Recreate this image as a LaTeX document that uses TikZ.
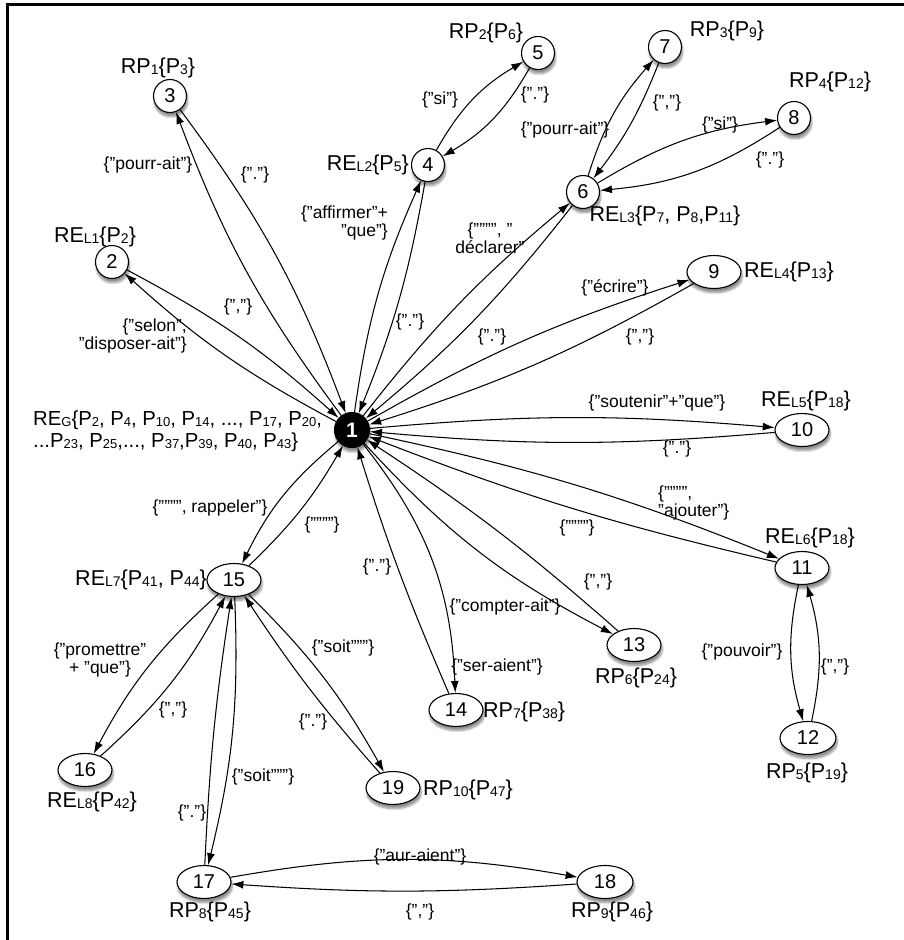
\documentclass[tikz,border=0pt]{standalone}
\usepackage{fontspec}
\setmainfont{Liberation Sans}
\usetikzlibrary{arrows.meta,shapes.geometric,shadows.blur}
\newcommand{\lsub}[1]{\raisebox{-1pt}{\fontsize{14}{14}\selectfont #1}}
\newcommand{\lsubb}[1]{\raisebox{-1pt}{\fontsize{13}{13}\selectfont #1}}
\tikzset{
  shd/.style={blur shadow={shadow blur steps=8, shadow xshift=1pt, shadow yshift=-4pt, shadow blur extra rounding=2pt, shadow opacity=45}},
  nd/.style={circle, draw, line width=1.1pt, fill=white, minimum size=33pt, inner sep=0pt, font=\fontsize{20}{20}\selectfont, shd},
  el/.style={ellipse, draw, line width=1.1pt, fill=white, minimum width=54pt, minimum height=33pt, inner sep=0pt, font=\fontsize{20}{20}\selectfont, shd},
  nlab/.style={font=\fontsize{21.5}{22}\selectfont, inner sep=0pt},
  elab/.style={font=\fontsize{17.5}{18}\selectfont, inner sep=0pt},
  conn/.style={line width=1.05pt, -{Latex[length=12pt,width=8pt]}},
}
\begin{document}
\begin{tikzpicture}[x=1pt,y=1pt]
\useasboundingbox (0,0) rectangle (904,-940);
% frame
\draw[line width=3pt] (7.5,-940) -- (7.5,-4.5) -- (904,-4.5);
% nodes
\node[nd, fill=black, text=white, font=\fontsize{21}{21}\selectfont\bfseries, minimum size=35pt] (n1) at (352,-430) {1};
\node[nd] (n2) at (112,-262) {2};
\node[nd] (n3) at (170,-96) {3};
\node[nd] (n4) at (428,-165) {4};
\node[nd] (n5) at (538,-53) {5};
\node[nd] (n6) at (583,-192) {6};
\node[nd] (n7) at (665,-47) {7};
\node[nd] (n8) at (794,-118) {8};
\node[el] (n9) at (714,-272) {9};
\node[el] (n10) at (802,-430) {10};
\node[el] (n11) at (802,-568) {11};
\node[el, minimum width=56pt] (n12) at (808,-738) {12};
\node[el] (n13) at (634,-645) {13};
\node[el] (n14) at (456,-710) {14};
\node[el] (n15) at (234,-580) {15};
\node[el] (n16) at (85,-770) {16};
\node[el] (n17) at (204,-882) {17};
\node[el, minimum width=56pt] (n18) at (605,-882) {18};
\node[el] (n19) at (393,-788) {19};
% node labels
\node[nlab, font=\fontsize{20.3}{22}\selectfont, anchor=west, align=left] (l1) at (33,-431) {RE\lsubb{G}\{P\lsubb{2}, P\lsubb{4}, P\lsubb{10}, P\lsubb{14}, ..., P\lsubb{17}, P\lsubb{20},\\ ...P\lsubb{23}, P\lsubb{25},..., P\lsubb{37},P\lsubb{39}, P\lsubb{40}, P\lsubb{43}\}};
\node[nlab] (l2) at (95,-237) {RE\lsub{L1}\{P\lsub{2}\}};
\node[nlab] (l3) at (158,-68) {RP\lsub{1}\{P\lsub{3}\}};
\node[nlab, anchor=east] (l4) at (409,-165) {RE\lsub{L2}\{P\lsub{5}\}};
\node[nlab] (l5) at (486,-33) {RP\lsub{2}\{P\lsub{6}\}};
\node[nlab] (l6) at (665,-216) {RE\lsub{L3}\{P\lsub{7}, P\lsub{8},P\lsub{11}\}};
\node[nlab] (l7) at (727,-31) {RP\lsub{3}\{P\lsub{9}\}};
\node[nlab] (l8) at (830,-82) {RP\lsub{4}\{P\lsub{12}\}};
\node[nlab, anchor=west] (l9) at (744,-272) {RE\lsub{L4}\{P\lsub{13}\}};
\node[nlab] (l10) at (806,-401) {RE\lsub{L5}\{P\lsub{18}\}};
\node[nlab] (l11) at (810,-538) {RE\lsub{L6}\{P\lsub{18}\}};
\node[nlab] (l12) at (807,-773) {RP\lsub{5}\{P\lsub{19}\}};
\node[nlab] (l13) at (636,-678) {RP\lsub{6}\{P\lsub{24}\}};
\node[nlab, anchor=west] (l14) at (483,-712) {RP\lsub{7}\{P\lsub{38}\}};
\node[nlab, anchor=east] (l15) at (207,-580) {RE\lsub{L7}\{P\lsub{41}, P\lsub{44}\}};
\node[nlab] (l16) at (92,-802) {RE\lsub{L8}\{P\lsub{42}\}};
\node[nlab] (l17) at (210,-912) {RP\lsub{8}\{P\lsub{45}\}};
\node[nlab] (l18) at (612,-912) {RP\lsub{9}\{P\lsub{46}\}};
\node[nlab, anchor=west] (l19) at (423,-790) {RP\lsub{10}\{P\lsub{47}\}};
% connectors
\draw[conn] (n1) to[bend left=7] (n2);
\draw[conn] (n2) to[bend left=7] (n1);
\draw[conn] (n1) to[bend left=8] (n3);
\draw[conn] (n3) to[bend left=8] (n1);
\draw[conn] (n1) to[bend left=8] (n4);
\draw[conn] (n4) to[bend left=6] (n1);
\draw[conn] (n4) to[bend left=15] (n5);
\draw[conn] (n5) to[bend left=15] (n4);
\draw[conn] (n1) to[bend left=6] (n6);
\draw[conn] (n6) to[bend left=6] (n1);
\draw[conn] (n6) to[bend left=12] (n7);
\draw[conn] (n7) to[bend left=8] (n6);
\draw[conn] (n6) to[bend left=12] (n8);
\draw[conn] (n8) to[bend left=14] (n6);
\draw[conn] (n1) to[bend left=6] (n9);
\draw[conn] (n9) to[bend left=6] (n1);
\draw[conn] (n1) to[bend left=5] (n10);
\draw[conn] (n10) to[bend left=5] (n1);
\draw[conn] (n1) to[bend left=5] (n11);
\draw[conn] (n11) to[bend left=4] (n1);
\draw[conn] (n1) to[bend right=10] (n13);
\draw[conn] (n13) to[bend right=4] (n1);
\draw[conn] (n1) to[bend left=18] (n14);
\draw[conn] (n14) to[bend left=3] (n1);
\draw[conn] (n1) to[bend right=12] (n15);
\draw[conn] (n15) to[bend right=8] (n1);
\draw[conn] (n11) to[bend right=14] (n12);
\draw[conn] (n12) to[bend right=14] (n11);
\draw[conn] (n15) to[bend right=10] (n16);
\draw[conn] (n16) to[bend right=10] (n15);
\draw[conn] (n15) to[bend left=8] (n17);
\draw[conn] (n17) to[bend left=3] (n15);
\draw[conn] (n15) to[bend left=8] (n19);
\draw[conn] (n19) to[bend left=4] (n15);
\draw[conn] (n17) to[bend left=10] (n18);
\draw[conn] (n18) to[bend left=4] (n17);
% edge labels
\node[elab] (e12a) at (238,-307) {\{","\}};
\node[elab, anchor=east, align=right] (e12b) at (187,-336) {\{"selon",\\"disposer-ait"\}};
\node[elab] (e13a) at (148,-165) {\{"pourr-ait"\}};
\node[elab] (e13b) at (255,-175) {\{"."\}};
\node[elab, anchor=east, align=right] (e14a) at (388,-223) {\{"affirmer"+\\"que"\}};
\node[elab] (e14b) at (410,-322) {\{"."\}};
\node[elab] (e45a) at (440,-100) {\{"si"\}};
\node[elab] (e45b) at (535,-95) {\{"."\}};
\node[elab, align=center] (e16a) at (490,-238) {\{"""", "\\déclarer"};
\node[elab] (e16b) at (492,-337) {\{"."\}};
\node[elab] (e67a) at (565,-130) {\{"pourr-ait"\}};
\node[elab] (e67b) at (667,-103) {\{","\}};
\node[elab] (e68a) at (720,-125) {\{"si"\}};
\node[elab] (e68b) at (770,-160) {\{"."\}};
\node[elab] (e19a) at (615,-288) {\{"écrire"\}};
\node[elab] (e19b) at (640,-337) {\{","\}};
\node[elab] (e110a) at (657,-403) {\{"soutenir"+"que"\}};
\node[elab] (e110b) at (677,-449) {\{"."\}};
\node[elab, anchor=west, align=left] (e111a) at (658,-503) {\{"""",\\"ajouter"\}};
\node[elab] (e111b) at (577,-528) {\{""""\}};
\node[elab] (e113a) at (505,-607) {\{"compter-ait"\}};
\node[elab] (e113b) at (598,-582) {\{","\}};
\node[elab] (e114a) at (497,-667) {\{"ser-aient"\}};
\node[elab] (e114b) at (377,-567) {\{"."\}};
\node[elab] (e115a) at (210,-508) {\{"""", rappeler"\}};
\node[elab] (e115b) at (322,-525) {\{""""\}};
\node[elab] (e1112a) at (742,-652) {\{"pouvoir"\}};
\node[elab] (e1112b) at (835,-667) {\{","\}};
\node[elab, align=center] (e1516a) at (100,-660) {\{"promettre"\\+ "que"\}};
\node[elab] (e1516b) at (173,-710) {\{","\}};
\node[elab] (e1517a) at (263,-777) {\{"soit"""\}};
\node[elab] (e1517b) at (192,-813) {\{"."\}};
\node[elab] (e1519a) at (343,-648) {\{"soit"""\}};
\node[elab] (e1519b) at (313,-722) {\{"."\}};
\node[elab] (e1718a) at (420,-857) {\{"aur-aient"\}};
\node[elab] (e1718b) at (420,-912) {\{","\}};
\end{tikzpicture}
\end{document}
